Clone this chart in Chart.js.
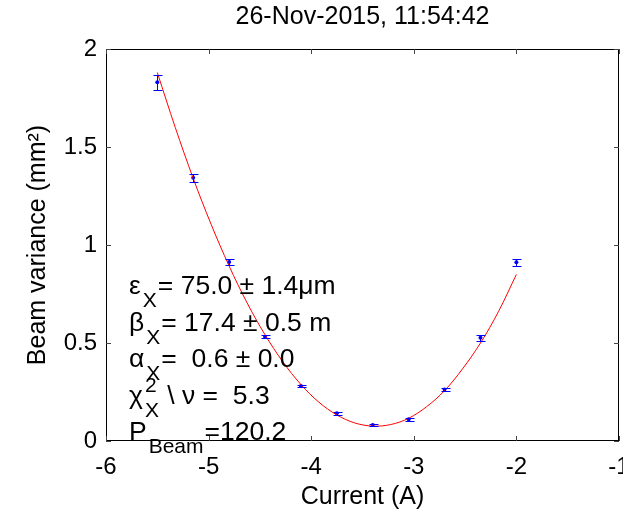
<!DOCTYPE html>
<html>
<head>
<meta charset="utf-8">
<script src="https://cdn.jsdelivr.net/npm/chart.js@4.4.1/dist/chart.umd.min.js"></script>
<style>
html, body { margin: 0; padding: 0; background: #fff; }
#wrap { width: 623px; height: 514px; }
</style>
</head>
<body>
<div id="wrap"><canvas id="beamChart" width="623" height="514"></canvas></div>
<script>
// measured beam variance vs quad current
const current = [-5.5, -5.15, -4.8, -4.45, -4.1, -3.75, -3.4, -3.05, -2.7, -2.35, -2.0];
const variance = [1.83, 1.343, 0.913, 0.532, 0.281, 0.141, 0.081, 0.111, 0.263, 0.527, 0.912];
const varianceErr = [0.037, 0.021, 0.017, 0.009, 0.007, 0.006, 0.006, 0.007, 0.008, 0.015, 0.018];

// fitted curve
const fitCurrent = [-5.5, -5.325, -5.15, -4.975, -4.8, -4.625, -4.45, -4.275, -4.1, -3.925, -3.75,
                    -3.575, -3.4, -3.225, -3.05, -2.875, -2.7, -2.525, -2.35, -2.175, -2.0];
const fitVariance = [1.88, 1.60, 1.34, 1.105, 0.893, 0.705, 0.542, 0.403, 0.288, 0.198, 0.133,
                     0.092, 0.076, 0.084, 0.116, 0.175, 0.257, 0.368, 0.50, 0.66, 0.85];

const xTicks = [-6, -5, -4, -3, -2, -1];
const yTicks = [0, 0.5, 1, 1.5, 2];

// fit results: [value, error]
const emittance = [75.0, 1.4];
const betaX = [17.4, 0.5];
const alphaX = [0.6, 0.0];
const chi2nu = 5.3;
const beamP = 120.2;

const FONT = '"Liberation Sans", Arial, Helvetica, sans-serif';
const tickFont = { family: FONT, size: 24 };
const labelFont = { family: FONT, size: 25 };

const frame = {
  id: 'frame',
  afterDraw(chart) {
    const { ctx, chartArea: a, scales } = chart;
    ctx.save();
    ctx.strokeStyle = '#000';
    ctx.lineWidth = 1;
    ctx.strokeRect(Math.round(a.left) + 0.5, Math.round(a.top) + 0.5,
                   Math.round(a.right - a.left) - 1, Math.round(a.bottom - a.top) - 1);
    ctx.strokeStyle = '#444';
    ctx.beginPath();
    xTicks.forEach(v => {
      const px = Math.round(scales.x.getPixelForValue(v)) + 0.5;
      ctx.moveTo(px, a.bottom); ctx.lineTo(px, a.bottom - 5);
      ctx.moveTo(px, a.top); ctx.lineTo(px, a.top + 5);
    });
    yTicks.forEach(v => {
      const py = Math.round(scales.y.getPixelForValue(v)) + 0.5;
      ctx.moveTo(a.left, py); ctx.lineTo(a.left + 5, py);
      ctx.moveTo(a.right, py); ctx.lineTo(a.right - 5, py);
    });
    ctx.stroke();
    ctx.restore();
  }
};

const errorBars = {
  id: 'errorBars',
  afterDatasetsDraw(chart) {
    const { ctx, scales } = chart;
    ctx.save();
    ctx.strokeStyle = '#0000ff';
    ctx.lineWidth = 1;
    ctx.beginPath();
    current.forEach((c, i) => {
      const px = Math.round(scales.x.getPixelForValue(c)) + 0.5;
      const top = Math.round(scales.y.getPixelForValue(variance[i] + varianceErr[i])) + 0.5;
      const bot = Math.round(scales.y.getPixelForValue(variance[i] - varianceErr[i])) + 0.5;
      ctx.moveTo(px, top); ctx.lineTo(px, bot);
      ctx.moveTo(px - 4, top); ctx.lineTo(px + 5, top);
      ctx.moveTo(px - 4, bot); ctx.lineTo(px + 5, bot);
    });
    ctx.stroke();
    ctx.restore();
  }
};

// TeX-like text with sub/superscripts
function drawRich(ctx, x, y, parts) {
  parts.forEach(p => {
    if (p.sub !== undefined || p.sup !== undefined) {
      ctx.font = `21px ${FONT}`;
      x += 2;
      let w = 0;
      if (p.sup !== undefined) { ctx.fillText(p.sup, x, y - 12); w = Math.max(w, ctx.measureText(p.sup).width); }
      if (p.sub !== undefined) { ctx.fillText(p.sub, x, y + 13); w = Math.max(w, ctx.measureText(p.sub).width); }
      x += w + 1;
    } else {
      ctx.font = `26.5px ${FONT}`;
      ctx.fillText(p.t, x, y);
      x += ctx.measureText(p.t).width;
    }
  });
}

const fitText = {
  id: 'fitText',
  afterDraw(chart) {
    const { ctx, chartArea: a } = chart;
    const x0 = a.left + 23;
    const y0 = a.top + 245;
    const step = 36.5;
    const lines = [
      [{ t: 'ε' }, { sub: 'X' }, { t: `= ${emittance[0].toFixed(1)} ± ${emittance[1].toFixed(1)}μm` }],
      [{ t: 'β' }, { sub: 'X' }, { t: `= ${betaX[0].toFixed(1)} ± ${betaX[1].toFixed(1)} m` }],
      [{ t: 'α' }, { sub: 'X' }, { t: `=  ${alphaX[0].toFixed(1)} ± ${alphaX[1].toFixed(1)}` }],
      [{ t: 'χ' }, { sup: '2', sub: 'X' }, { t: ` \\ ν =  ${chi2nu.toFixed(1)}` }],
      [{ t: 'P' }, { sub: 'Beam' }, { t: `=${beamP.toFixed(1)}` }]
    ];
    ctx.save();
    ctx.fillStyle = '#000';
    ctx.textBaseline = 'alphabetic';
    ctx.textAlign = 'left';
    lines.forEach((parts, i) => drawRich(ctx, x0, y0 + i * step, parts));
    ctx.restore();
  }
};

const beamChart = new Chart(document.getElementById('beamChart'), {
  type: 'scatter',
  data: {
    datasets: [
      {
        label: 'Fit',
        type: 'line',
        data: fitCurrent.map((c, i) => ({ x: c, y: fitVariance[i] })),
        borderColor: '#ff0000',
        borderWidth: 1,
        pointRadius: 0,
        tension: 0.35,
        fill: false
      },
      {
        label: 'Data',
        data: current.map((c, i) => ({ x: c, y: variance[i] })),
        pointRadius: 2,
        pointBorderWidth: 0,
        backgroundColor: '#0000ff',
        borderColor: '#0000ff'
      }
    ]
  },
  options: {
    responsive: false,
    animation: false,
    layout: { padding: { left: 0, right: 2, top: 0, bottom: 0 } },
    plugins: {
      legend: { display: false },
      tooltip: { enabled: false },
      title: { display: false }
    },
    scales: {
      x: {
        type: 'linear',
        position: 'bottom',
        min: -6, max: -1,
        afterBuildTicks: s => { s.ticks = xTicks.map(v => ({ value: v })); },
        ticks: { font: tickFont, color: '#000', padding: 12, maxRotation: 0, autoSkip: false, callback: v => String(v) },
        grid: { display: false, drawTicks: false },
        border: { display: false },
        title: { display: true, text: 'Current (A)', font: labelFont, color: '#000', padding: { top: 0, bottom: 2 } },
        afterFit: s => { s.height = 73; s.paddingLeft = 0; s.paddingRight = 0; }
      },
      xTop: {
        type: 'linear',
        position: 'top',
        min: -6, max: -1,
        ticks: { display: false },
        grid: { display: false, drawTicks: false },
        border: { display: false },
        title: { display: true, text: '26-Nov-2015, 11:54:42', font: labelFont, color: '#000', padding: { top: 2, bottom: 0 } },
        afterFit: s => { s.height = 49; s.paddingLeft = 0; s.paddingRight = 0; }
      },
      y: {
        type: 'linear',
        position: 'left',
        min: 0, max: 2,
        afterBuildTicks: s => { s.ticks = yTicks.map(v => ({ value: v })); },
        ticks: { font: tickFont, color: '#000', padding: 9, callback: v => String(v) },
        grid: { display: false, drawTicks: false },
        border: { display: false },
        title: { display: true, text: 'Beam variance (mm²)', font: labelFont, color: '#000', padding: { top: 23, bottom: 0 } },
        afterFit: s => { s.width = 106; s.paddingTop = 0; s.paddingBottom = 0; }
      }
    }
  },
  plugins: [frame, errorBars, fitText]
});
</script>
</body>
</html>
